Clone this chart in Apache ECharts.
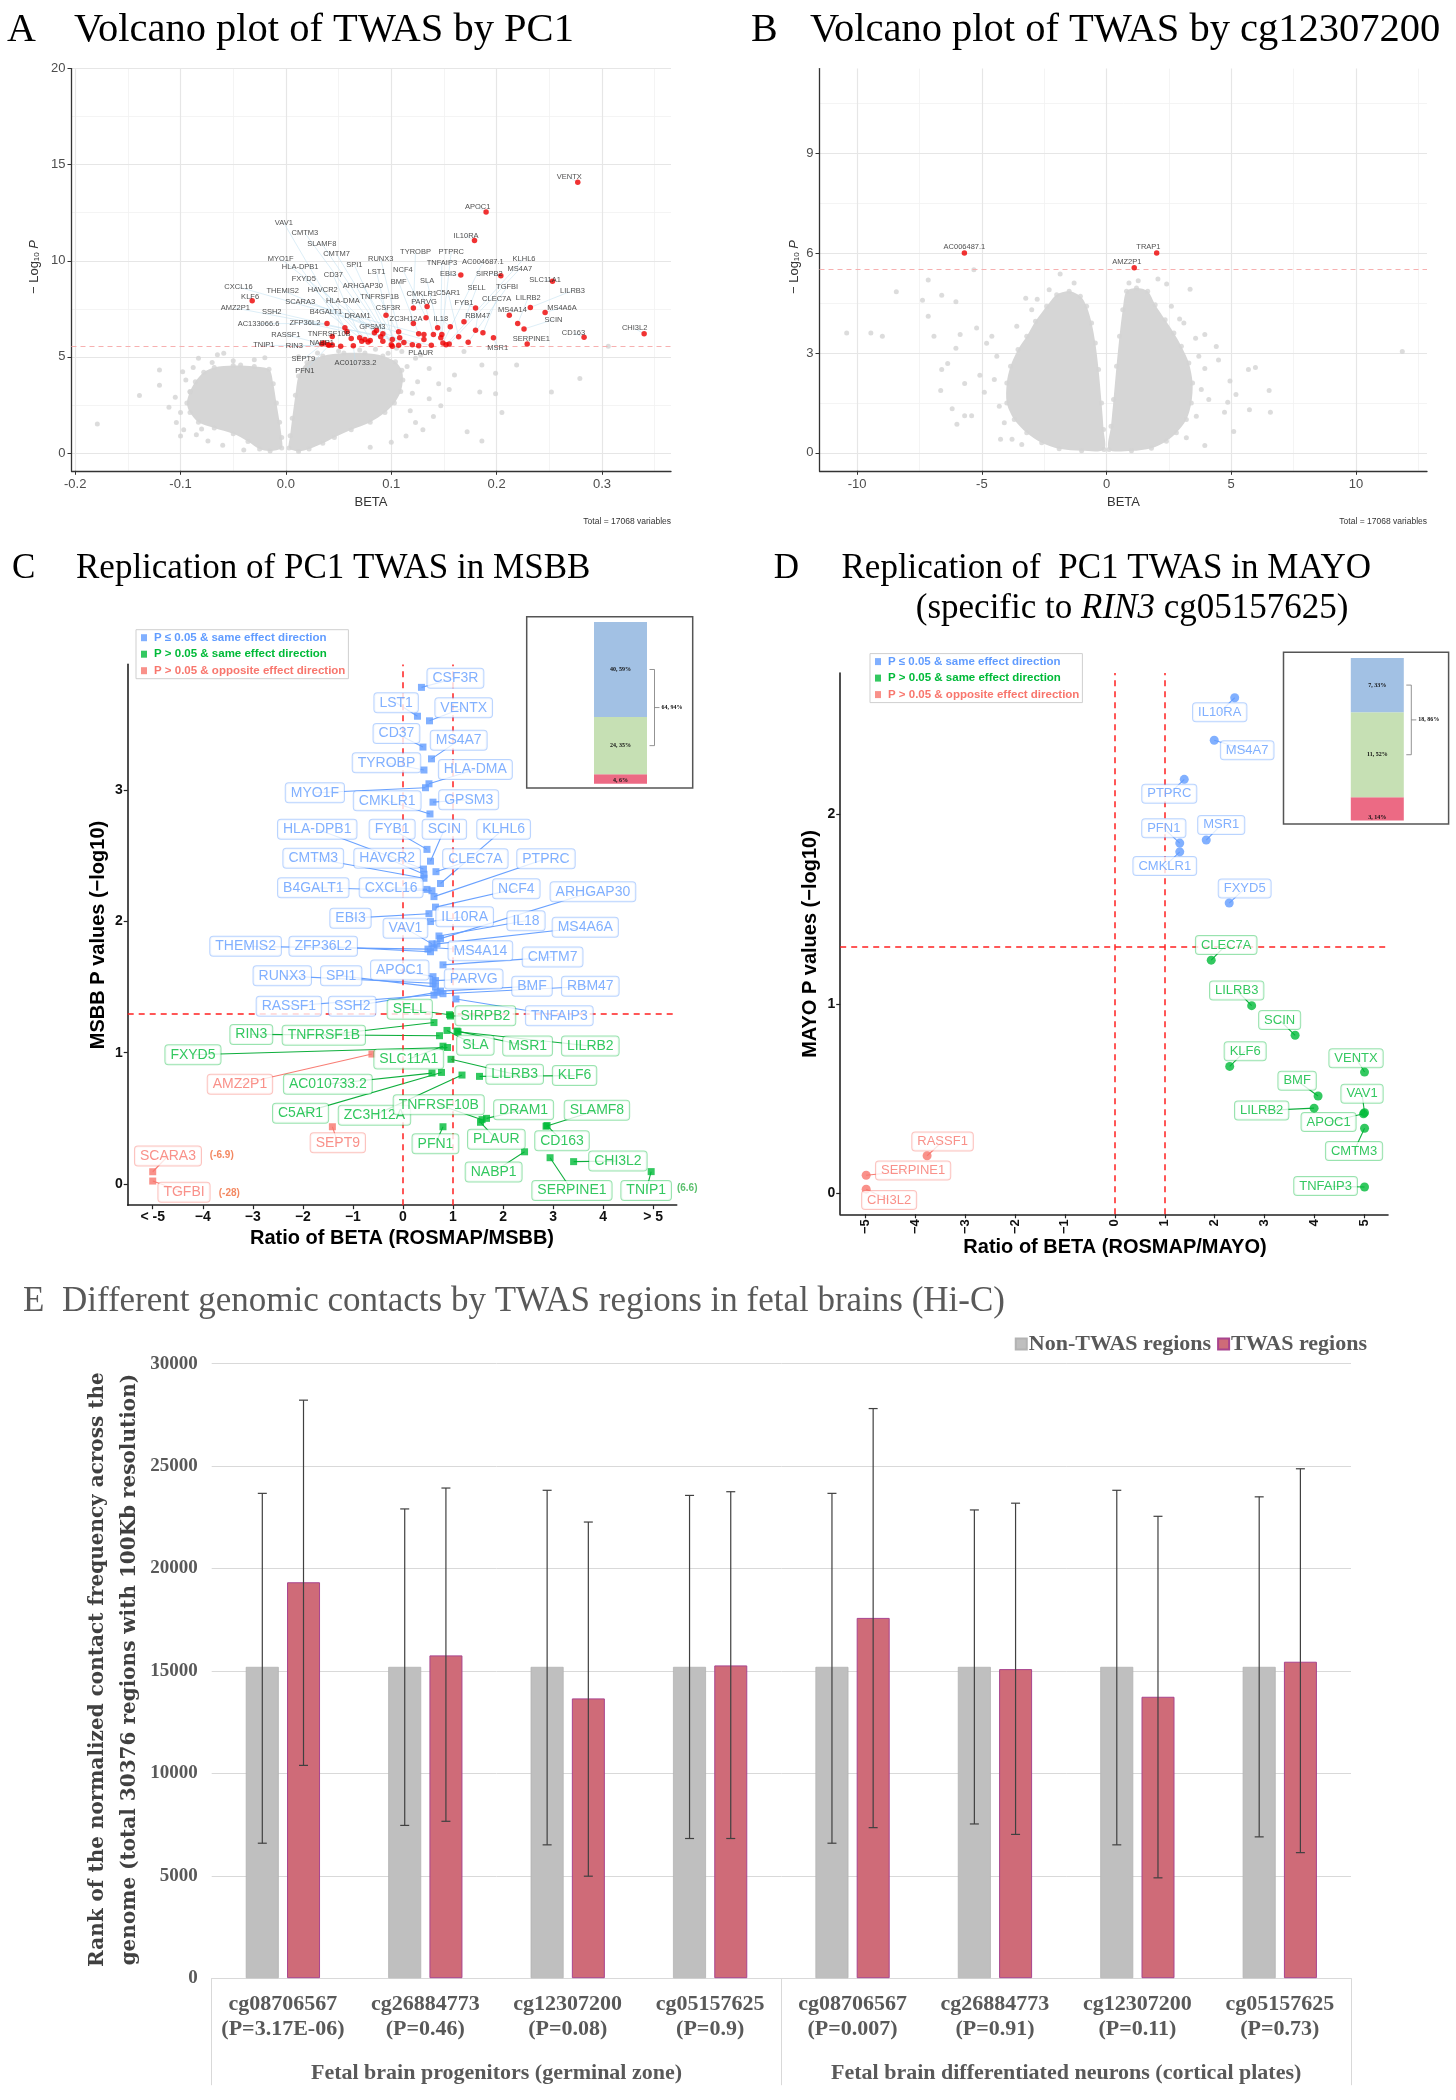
<!DOCTYPE html>
<html><head><meta charset="utf-8">
<script src="https://cdn.jsdelivr.net/npm/echarts@6/dist/echarts.min.js"></script>
<style>html,body{margin:0;padding:0;background:#fff}#c{width:1456px;height:2100px}</style>
</head><body><div id="c"></div><script>
const SANS="'Liberation Sans', Arial, Helvetica, sans-serif";
const SERIF="'Liberation Serif', 'Times New Roman', Times, serif";

// ================= Panel A : volcano by PC1 =================
const volcanoA_cloudLeft=[[-0.004,0.25],[-0.015,0.1],[-0.025,0.2],[-0.036,0.6],[-0.05,1.0],[-0.068,1.3],[-0.083,1.6],[-0.091,2.1],[-0.094,2.6],[-0.091,3.2],[-0.086,3.7],[-0.078,4.2],[-0.068,4.45],[-0.05,4.55],[-0.03,4.5],[-0.016,4.35],[-0.012,3.6],[-0.009,2.6],[-0.006,1.6],[-0.004,0.8]];
const volcanoA_cloudRight=[[0.003,0.25],[0.012,0.08],[0.022,0.2],[0.035,0.5],[0.046,0.8],[0.062,1.2],[0.08,1.6],[0.094,2.1],[0.103,2.6],[0.109,3.2],[0.111,3.8],[0.11,4.3],[0.104,4.75],[0.092,5.05],[0.075,5.2],[0.055,5.2],[0.035,5.05],[0.02,4.7],[0.012,4.0],[0.009,3.0],[0.006,1.8],[0.004,0.9]];
const volcanoA_grey=[[-0.179,1.50],[-0.139,2.99],[-0.120,4.31],[-0.120,3.52],[-0.098,4.23],[-0.104,1.58],[-0.100,0.88],[-0.111,2.38],[-0.074,0.62],[-0.091,3.17],[-0.083,4.93],[-0.065,5.11],[-0.059,5.19],[-0.043,4.58],[-0.050,4.80],[-0.030,4.85],[-0.020,4.95],[-0.095,3.80],[-0.097,1.20],[-0.085,0.95],[-0.060,0.40],[-0.040,0.15],[-0.070,4.70],[-0.088,4.45],[-0.105,2.90],[-0.100,2.10],[-0.080,1.25],
[0.186,0.62],[0.219,4.58],[0.252,3.17],[0.279,3.87],[0.306,5.55],[0.199,4.14],[0.199,3.08],[0.186,4.58],[0.169,5.28],[0.160,4.05],[0.147,2.46],[0.136,2.82],[0.125,3.70],[0.123,1.58],[0.114,0.88],[0.136,4.40],[0.123,4.93],[0.110,5.28],[0.097,5.19],[0.184,3.17],[0.155,3.30],[0.140,1.90],[0.130,1.20],[0.118,2.20],[0.120,3.10],[0.115,4.50],[0.085,5.40],[0.070,5.35],[0.050,5.30],[0.030,5.20],[0.012,5.00],[0.100,0.55],[0.080,0.30],[0.172,1.10],[0.205,2.10],[0.128,5.10],[0.105,5.45],[0.145,3.60]];
const volcanoA_hits=[['VENTX',0.277,14.08],['APOC1',0.190,12.54],['IL10RA',0.179,11.06],['VAV1',0.056,6.51],['CMTM3',0.086,6.37],['SLAMF8',0.092,6.20],['CMTM7',0.101,5.55],['TYROBP',0.121,7.54],['PTPRC',0.148,6.16],['RUNX3',0.107,6.30],['MYO1F',0.090,6.05],['SPI1',0.100,5.63],['TNFAIP3',0.147,5.99],['AC004687.1',0.149,5.72],['KLHL6',0.152,5.63],['HLA-DPB1',0.062,5.95],['LST1',0.101,5.90],['NCF4',0.133,7.04],['EBI3',0.166,9.26],['SIRPB2',0.204,9.22],['MS4A7',0.155,5.67],['CD37',0.072,5.81],['FXYD5',0.075,5.90],['BMF',0.126,6.20],['SLA',0.144,6.51],['SLC11A1',0.253,8.93],['CXCL16',0.131,5.90],['THEMIS2',0.120,5.63],['HAVCR2',0.078,5.77],['ARHGAP30',0.107,5.60],['SELL',0.169,6.83],['TGFBI',0.173,5.76],['LILRB3',0.232,7.57],['CMKLR1',0.140,6.16],['C5AR1',0.164,6.04],['KLF6',-0.032,7.92],['TNFRSF1B',0.108,5.99],['SCARA3',0.131,6.16],['HLA-DMA',0.092,5.81],['CLEC7A',0.187,6.25],['LILRB2',0.220,6.73],['FYB1',0.180,7.54],['MS4A14',0.212,7.17],['MS4A6A',0.246,7.31],['AMZ2P1',0.138,5.60],['SSH2',0.112,5.75],['B4GALT1',0.070,6.00],['CSF3R',0.095,7.17],['PARVG',0.134,7.62],['DRAM1',0.080,5.85],['ZC3H12A',0.121,6.73],['IL18',0.156,6.57],['RBM47',0.180,6.39],['SCIN',0.226,6.45],['AC133066.6',0.039,6.73],['ZFP36L2',0.058,6.30],['GPSM3',0.084,6.25],['CD163',0.283,6.02],['CHI3L2',0.340,6.20],['RASSF1',0.034,5.67],['TNFRSF10B',0.044,6.06],['SERPINE1',0.229,5.67],['TNIP1',0.052,5.55],['RIN3',0.040,5.63],['NABP1',0.044,5.62],['MSR1',0.197,5.99],['PLAUR',0.126,5.58],['SEPT9',0.036,5.72],['AC010733.2',0.064,5.58],['PFN1',0.041,5.60]];
const volcanoA_labelPos=[['VENTX',0.269,14.35],['APOC1',0.182,12.80],['IL10RA',0.171,11.30],['VAV1',-0.002,11.97],['CMTM3',0.018,11.44],['SLAMF8',0.034,10.90],['CMTM7',0.048,10.35],['TYROBP',0.123,10.44],['PTPRC',0.157,10.48],['RUNX3',0.090,10.09],['MYO1F',-0.005,10.10],['SPI1',0.065,9.77],['TNFAIP3',0.148,9.90],['AC004687.1',0.187,9.93],['KLHL6',0.226,10.12],['HLA-DPB1',0.0135,9.67],['LST1',0.086,9.42],['NCF4',0.111,9.54],['EBI3',0.154,9.30],['SIRPB2',0.193,9.33],['MS4A7',0.222,9.58],['CD37',0.045,9.24],['FXYD5',0.017,9.05],['BMF',0.107,8.89],['SLA',0.134,8.94],['SLC11A1',0.246,9.01],['CXCL16',-0.045,8.63],['THEMIS2',-0.003,8.45],['HAVCR2',0.035,8.50],['ARHGAP30',0.073,8.71],['SELL',0.181,8.59],['TGFBI',0.210,8.64],['LILRB3',0.272,8.45],['CMKLR1',0.129,8.27],['C5AR1',0.154,8.33],['KLF6',-0.034,8.10],['TNFRSF1B',0.089,8.10],['SCARA3',0.0135,7.87],['HLA-DMA',0.054,7.92],['CLEC7A',0.200,7.99],['LILRB2',0.230,8.08],['FYB1',0.169,7.78],['MS4A14',0.215,7.43],['MS4A6A',0.262,7.57],['AMZ2P1',-0.048,7.54],['SSH2',-0.0135,7.36],['B4GALT1',0.038,7.36],['CSF3R',0.097,7.54],['PARVG',0.131,7.85],['DRAM1',0.068,7.13],['ZC3H12A',0.114,6.97],['IL18',0.147,6.99],['RBM47',0.182,7.11],['SCIN',0.254,6.94],['AC133066.6',-0.026,6.73],['ZFP36L2',0.018,6.78],['GPSM3',0.082,6.58],['CD163',0.273,6.25],['CHI3L2',0.331,6.48],['RASSF1',0.000,6.16],['TNFRSF10B',0.041,6.21],['SERPINE1',0.233,5.93],['TNIP1',-0.021,5.60],['RIN3',0.008,5.56],['NABP1',0.034,5.70],['MSR1',0.201,5.46],['PLAUR',0.128,5.21],['SEPT9',0.0166,4.88],['AC010733.2',0.066,4.67],['PFN1',0.018,4.28]];
const volcanoA_threshold=5.55;
const volcanoA_xTicks=[-0.2,-0.1,0,0.1,0.2,0.3];
const volcanoA_xMinor=[-0.15,-0.05,0.05,0.15,0.25,0.35];
const volcanoA_yTicks=[0,5,10,15,20];
const volcanoA_yMinor=[2.5,7.5,12.5,17.5];

// ================= Panel B : volcano by cg12307200 =================
const volcanoB_cloudLeft=[[-0.1,0.1],[-1.0,0.06],[-1.9,0.12],[-2.6,0.3],[-3.2,0.6],[-3.7,1.0],[-4.0,1.5],[-4.0,2.1],[-3.85,2.6],[-3.55,3.1],[-3.2,3.5],[-2.85,3.95],[-2.4,4.4],[-2.0,4.75],[-1.5,4.85],[-1.05,4.7],[-0.8,4.4],[-0.6,3.9],[-0.45,3.3],[-0.32,2.5],[-0.2,1.5],[-0.12,0.7]];
const volcanoB_cloudRight=[[0.1,0.1],[1.0,0.06],[1.8,0.14],[2.4,0.35],[2.8,0.6],[3.2,1.0],[3.4,1.5],[3.45,2.1],[3.3,2.7],[3.0,3.2],[2.7,3.6],[2.35,4.0],[1.95,4.45],[1.65,4.85],[1.2,4.95],[0.8,4.85],[0.65,4.3],[0.52,3.5],[0.4,2.6],[0.28,1.6],[0.18,0.8]];
const volcanoB_grey=[[-10.42,3.60],[-9.45,3.60],[-8.99,3.50],[-8.43,4.84],[-7.15,5.19],[-7.38,4.58],[-7.15,4.10],[-6.92,3.50],[-6.61,4.73],[-6.37,2.68],[-6.61,2.50],[-6.65,1.87],[-6.19,1.32],[-6.0,0.86],[-6.04,4.54],[-5.87,3.55],[-6.04,3.14],[-5.69,2.08],[-5.32,5.50],[-5.21,3.75],[-5.08,2.33],[-4.81,3.29],[-4.90,1.82],[-5.41,1.11],[-5.69,1.11],[-3.24,4.64],[-2.78,4.61],[-4.25,0.41],[-3.79,0.41],[-1.86,5.37],[-4.4,2.9],[-4.5,2.2],[-4.3,1.4],[-3.6,3.8],[-3.0,4.3],[-2.3,4.9],[-1.3,5.1],[-3.4,0.25],[-4.6,3.5],[-4.1,0.9],
[2.06,5.22],[2.41,5.07],[3.35,4.91],[2.93,4.02],[3.57,3.44],[3.94,3.55],[4.40,3.19],[4.49,2.79],[3.94,2.53],[4.95,2.16],[5.19,1.75],[4.86,1.52],[5.69,2.50],[5.97,2.56],[6.52,1.87],[6.57,1.22],[5.73,1.29],[5.10,0.64],[3.94,0.22],[11.86,3.04],[4.73,1.22],[1.27,5.17],[0.9,5.1],[3.7,2.9],[3.8,1.9],[3.6,1.1],[3.2,0.45],[2.6,4.4],[3.1,3.9],[4.1,1.6]];
const volcanoB_hits=[['AC006487.1',-5.70,6.00],['TRAP1',2.01,6.00],['AMZ2P1',1.11,5.56]];
const volcanoB_labelPos=[['AC006487.1',-5.70,6.17],['TRAP1',1.68,6.17],['AMZ2P1',0.81,5.72]];
const volcanoB_threshold=5.52;
const volcanoB_xTicks=[-10,-5,0,5,10];
const volcanoB_xMinor=[-7.5,-2.5,2.5,7.5,12.5];
const volcanoB_yTicks=[0,3,6,9];
const volcanoB_yMinor=[1.5,4.5,7.5,10.5];
const volcano_total='Total = 17068 variables';

// ================= Panel C : replication in MSBB =================
const msbb_genes=[
['CSF3R',0.37,3.785,'blue'],['LST1',0.29,3.565,'blue'],['VENTX',0.53,3.53,'blue'],['CD37',0.40,3.33,'blue'],['MS4A7',0.57,3.24,'blue'],['TYROBP',0.42,3.155,'blue'],['HLA-DMA',0.52,3.05,'blue'],['MYO1F',0.45,3.02,'blue'],['GPSM3',0.60,2.91,'blue'],['CMKLR1',0.54,2.82,'blue'],['FYB1',0.48,2.55,'blue'],['SCIN',0.55,2.46,'blue'],['HLA-DPB1',0.41,2.40,'blue'],['HAVCR2',0.42,2.36,'blue'],['CMTM3',0.42,2.33,'blue'],['CLEC7A',0.66,2.38,'blue'],['KLHL6',0.75,2.29,'blue'],['CXCL16',0.48,2.245,'blue'],['B4GALT1',0.58,2.235,'blue'],['PTPRC',0.62,2.19,'blue'],['NCF4',0.65,2.11,'blue'],['EBI3',0.52,2.06,'blue'],['IL10RA',0.55,2.00,'blue'],['ARHGAP30',0.75,1.87,'blue'],['IL18',0.72,1.89,'blue'],['VAV1',0.58,1.83,'blue'],['MS4A6A',0.68,1.83,'blue'],['MS4A14',0.62,1.80,'blue'],['THEMIS2',0.50,1.79,'blue'],['ZFP36L2',0.55,1.77,'blue'],['CMTM7',0.80,1.67,'blue'],['APOC1',0.60,1.58,'blue'],['PARVG',0.65,1.55,'blue'],['RUNX3',0.60,1.53,'blue'],['SPI1',0.65,1.50,'blue'],['BMF',0.75,1.47,'blue'],['RBM47',0.80,1.45,'blue'],['RASSF1',0.62,1.44,'blue'],['SSH2',0.68,1.46,'blue'],['TNFAIP3',1.06,1.41,'blue'],
['SELL',0.93,1.29,'green'],['SIRPB2',0.95,1.28,'green'],['RIN3',0.73,1.13,'green'],['TNFRSF1B',0.62,1.23,'green'],['FXYD5',0.89,1.04,'green'],['SLA',0.88,1.17,'green'],['MSR1',1.08,1.165,'green'],['LILRB2',1.10,1.16,'green'],['SLC11A1',0.80,1.05,'green'],['LILRB3',0.96,0.95,'green'],['KLF6',1.53,0.82,'green'],['AC010733.2',0.58,0.845,'green'],['C5AR1',0.77,0.85,'green'],['ZC3H12A',1.18,0.83,'green'],['TNFRSF10B',1.58,0.49,'green'],['DRAM1',1.67,0.50,'green'],['PLAUR',1.55,0.47,'green'],['SLAMF8',2.86,0.44,'green'],['CD163',2.88,0.445,'green'],['PFN1',0.80,0.436,'green'],['NABP1',2.43,0.245,'green'],['SERPINE1',2.94,0.20,'green'],['CHI3L2',3.41,0.17,'green'],['TNIP1',4.96,0.094,'green'],
['AMZ2P1',-0.62,0.99,'red'],['SEPT9',-1.41,0.436,'red'],['SCARA3',-5.0,0.093,'red'],['TGFBI',-5.0,0.022,'red']];
const msbb_labelPos=[['CSF3R',1.048,3.854],['LST1',-0.136,3.668],['VENTX',1.214,3.629],['CD37',-0.130,3.434],['MS4A7',1.114,3.381],['TYROBP',-0.329,3.210],['HLA-DMA',1.447,3.159],['MYO1F',-1.760,2.982],['CMKLR1',-0.315,2.921],['GPSM3',1.313,2.928],['HLA-DPB1',-1.713,2.703],['FYB1',-0.216,2.703],['SCIN',0.828,2.704],['KLHL6',2.012,2.704],['CMTM3',-1.792,2.482],['HAVCR2',-0.315,2.482],['CLEC7A',1.447,2.479],['PTPRC',2.858,2.479],['B4GALT1',-1.792,2.258],['CXCL16',-0.236,2.258],['NCF4',2.265,2.250],['ARHGAP30',3.796,2.227],['EBI3',-1.048,2.026],['IL10RA',1.234,2.037],['IL18',2.459,2.006],['MS4A6A',3.643,1.956],['VAV1',0.050,1.948],['THEMIS2',-3.144,1.811],['ZFP36L2',-1.593,1.811],['MS4A14',1.547,1.778],['CMTM7',2.990,1.729],['APOC1',-0.064,1.630],['RUNX3',-2.411,1.586],['SPI1',-1.234,1.586],['PARVG',1.413,1.563],['BMF',2.579,1.507],['RBM47',3.743,1.507],['RASSF1',-2.279,1.355],['SSH2',-1.014,1.355],['SELL',0.136,1.332],['SIRPB2',1.647,1.282],['TNFAIP3',3.124,1.282],['RIN3',-3.030,1.140],['TNFRSF1B',-1.581,1.133],['SLA',1.447,1.057],['MSR1',2.491,1.051],['LILRB2',3.743,1.051],['FXYD5',-4.196,0.985],['SLC11A1',0.116,0.952],['LILRB3',2.232,0.836],['KLF6',3.429,0.826],['AMZ2P1',-3.257,0.760],['AC010733.2',-1.501,0.760],['TNFRSF10B',0.715,0.604],['DRAM1',2.411,0.565],['SLAMF8',3.876,0.562],['C5AR1',-2.046,0.538],['ZC3H12A',-0.569,0.523],['PLAUR',1.866,0.340],['CD163',3.178,0.330],['SEPT9',-1.301,0.314],['PFN1',0.649,0.307],['SCARA3',-4.695,0.213],['CHI3L2',4.295,0.175],['NABP1',1.812,0.092],['SERPINE1',3.377,-0.050],['TNIP1',4.860,-0.050],['TGFBI',-4.375,-0.064]];
const msbb_notes=[['(-6.9)',-3.62,0.22,'red'],['(-28)',-3.47,-0.072,'red'],['(6.6)',5.68,-0.034,'green']];
const msbb_counts=[4,24,40];   // red, green, blue
const ratio_xTicks=[-5,-4,-3,-2,-1,0,1,2,3,4,5];
const msbb_yTicks=[0,1,2,3];

// ================= Panel D : replication in MAYO =================
const mayo_genes=[['IL10RA',2.40,2.613,'blue'],['MS4A7',1.99,2.389,'blue'],['PTPRC',1.39,2.183,'blue'],['MSR1',1.83,1.863,'blue'],['PFN1',1.30,1.847,'blue'],['CMKLR1',1.30,1.801,'blue'],['FXYD5',2.29,1.531,'blue'],
['CLEC7A',1.93,1.230,'green'],['LILRB3',2.74,0.990,'green'],['SCIN',3.61,0.834,'green'],['KLF6',2.30,0.670,'green'],['VENTX',5.00,0.640,'green'],['BMF',4.07,0.514,'green'],['LILRB2',3.99,0.450,'green'],['VAV1',5.00,0.426,'green'],['APOC1',4.98,0.42,'green'],['CMTM3',5.00,0.344,'green'],['TNFAIP3',5.00,0.034,'green'],
['RASSF1',-3.76,0.199,'red'],['SERPINE1',-4.98,0.096,'red'],['CHI3L2',-4.98,0.023,'red']];
const mayo_labelPos=[['IL10RA',2.10,2.537],['MS4A7',2.65,2.336],['PTPRC',1.09,2.107],['MSR1',2.13,1.943],['PFN1',0.98,1.925],['CMKLR1',1.00,1.726],['FXYD5',2.60,1.607],['CLEC7A',2.23,1.31],['LILRB3',2.44,1.07],['SCIN',3.30,0.914],['KLF6',2.61,0.75],['VENTX',4.83,0.713],['BMF',3.65,0.594],['LILRB2',2.94,0.437],['VAV1',4.95,0.526],['APOC1',4.28,0.377],['CMTM3',4.79,0.224],['TNFAIP3',4.22,0.039],['RASSF1',-3.45,0.274],['SERPINE1',-4.04,0.121],['CHI3L2',-4.52,-0.034]];
const mayo_counts=[3,11,7];   // red, green, blue
const mayo_yTicks=[0,1,2];

// ================= Panel E : Hi-C contacts =================
const hic_cpg=['cg08706567','cg26884773','cg12307200','cg05157625','cg08706567','cg26884773','cg12307200','cg05157625'];
const hic_p=['P=3.17E-06','P=0.46','P=0.08','P=0.9','P=0.007','P=0.91','P=0.11','P=0.73'];
const hic_tissue=['Fetal brain progenitors (germinal zone)','Fetal brain differentiated neurons (cortical plates)'];
const hic_nonTwas=[15200,15200,15200,15200,15200,15200,15200,15200];
const hic_twas=[19330,15760,13660,15270,17590,15090,13740,15450];
const hic_nonTwasLow=[6590,7460,6510,6820,6590,7530,6510,6900];
const hic_nonTwasHigh=[23670,22910,23820,23570,23670,22860,23820,23500];
const hic_twasLow=[10390,7660,4980,6820,7350,7020,4900,6130];
const hic_twasHigh=[28220,23930,22270,23750,27810,23190,22550,24870];

// ================= helpers =================
const LEG=['P ≤ 0.05 & same effect direction','P > 0.05 & same effect direction','P > 0.05 & opposite effect direction'];
const GROUP_NAME={blue:LEG[0],green:LEG[1],red:LEG[2]};
const GC={blue:'#619CFF',green:'#00BA38',red:'#F8766D'};
const GB={blue:'rgba(97,156,255,0.55)',green:'rgba(0,186,56,0.5)',red:'rgba(248,118,109,0.55)'};
const GL={blue:'rgba(97,156,255,0.95)',green:'rgba(0,170,50,0.95)',red:'rgba(248,118,109,0.95)'};
const INSET={red:'#ec6a84',green:'#c6e0b4',blue:'#a2c1e4'};

function gridMarks(xMaj,xMin,yMaj,yMin){
  const maj={color:'#e6e6e6',width:1.2,type:'solid'}, mn={color:'#f1f1f1',width:0.8,type:'solid'};
  return [].concat(xMin.map(v=>({xAxis:v,lineStyle:mn})),yMin.map(v=>({yAxis:v,lineStyle:mn})),
                   xMaj.map(v=>({xAxis:v,lineStyle:maj})),yMaj.map(v=>({yAxis:v,lineStyle:maj})));
}
function polySeries(xi,yi,outline){
  return {type:'custom',xAxisIndex:xi,yAxisIndex:yi,z:1,silent:true,clip:false,data:[outline[0]],
    renderItem:function(p,api){return {type:'polygon',shape:{points:outline.map(q=>api.coord(q)),smooth:0.3},style:{fill:'#d6d6d6'}};}};
}
function posMap(arr){const m={};arr.forEach(r=>{m[r[0]]=[r[1],r[2]];});return m;}
function connSeries(xi,yi,genes,labels,colorFn,width){
  const pm=posMap(labels);
  return {type:'custom',xAxisIndex:xi,yAxisIndex:yi,z:2,silent:true,clip:false,
    data:genes.map(g=>[pm[g[0]][0],pm[g[0]][1],g[1],g[2]]),
    renderItem:function(p,api){const a=api.coord([api.value(0),api.value(1)]),b=api.coord([api.value(2),api.value(3)]);
      return {type:'line',shape:{x1:a[0],y1:a[1],x2:b[0],y2:b[1]},style:{stroke:colorFn(genes[p.dataIndex][3]),lineWidth:width}};}};
}
function textSeries(xi,yi,labels,labelStyle,itemFn){
  return {type:'scatter',xAxisIndex:xi,yAxisIndex:yi,z:6,silent:true,clip:false,symbolSize:1,itemStyle:{color:'rgba(0,0,0,0)'},
    data:labels.map((r,i)=>Object.assign({name:r[0],value:[r[1],r[2]]},itemFn?itemFn(r,i):{})),
    label:Object.assign({show:true,position:'inside',formatter:'{b}'},labelStyle)};
}
function minusFmt(v){return v<0?'\u2212'+(-v):String(v);}

// ================= build option =================
const grids=[
 {left:71.5,top:68.6,width:599.5,height:402.2},      // 0 A
 {left:819.5,top:68.6,width:607.5,height:402.2},     // 1 B
 {left:127.7,top:664.4,width:549,height:540.8},      // 2 C
 {left:555,top:621.9,width:131,height:161.8},        // 3 C inset
 {left:840.2,top:673.1,width:547.8,height:541.2},    // 4 D
 {left:1310,top:658,width:134.6,height:162.5},       // 5 D inset
 {left:211.7,top:1363.7,width:1139.3,height:614.5}   // 6 E
];
const volAxisLine={show:true,onZero:false,lineStyle:{color:'#333',width:1.3}};
function volX(gi,min,max,ticks,fmt){return {type:'value',gridIndex:gi,min,max,axisLine:volAxisLine,splitLine:{show:false},
  axisTick:{show:true,length:4,customValues:ticks,lineStyle:{color:'#333'}},
  axisLabel:{customValues:ticks,formatter:fmt,color:'#4d4d4d',fontSize:13,fontFamily:SANS,margin:7}};}
function volY(gi,min,max,ticks){return {type:'value',gridIndex:gi,min,max,axisLine:volAxisLine,splitLine:{show:false},
  axisTick:{show:true,length:4,customValues:ticks,lineStyle:{color:'#333'}},
  axisLabel:{customValues:ticks,color:'#4d4d4d',fontSize:13,fontFamily:SANS,margin:6}};}
const repAxisLine={show:true,onZero:false,lineStyle:{color:'#222',width:1.6}};
function repX(gi,min,max,fmt,rotate){return {type:'value',gridIndex:gi,min,max,axisLine:repAxisLine,splitLine:{show:false},
  axisTick:{show:true,length:4,customValues:ratio_xTicks,lineStyle:{color:'#222',width:1.2}},
  axisLabel:{customValues:ratio_xTicks,formatter:fmt,rotate:rotate||0,color:'#111',fontWeight:'bold',fontSize:rotate?13:14,fontFamily:SANS,margin:5}};}
function repY(gi,min,max,ticks){return {type:'value',gridIndex:gi,min,max,axisLine:repAxisLine,splitLine:{show:false},
  axisTick:{show:true,length:4,customValues:ticks,lineStyle:{color:'#222',width:1.2}},
  axisLabel:{customValues:ticks,color:'#111',fontWeight:'bold',fontSize:14,fontFamily:SANS,margin:5}};}
function insetY(gi,name){return {type:'value',gridIndex:gi,min:0,max:100,interval:10,
  axisLine:{show:true,onZero:false,lineStyle:{color:'#9ecae1',type:'dotted',width:1}},axisTick:{show:false},splitLine:{show:false},
  axisLabel:{fontSize:4,color:'#444',margin:6,fontFamily:SERIF},
  name:name,nameLocation:'middle',nameGap:16,nameRotate:90,nameTextStyle:{fontSize:5,color:'#333',fontFamily:SERIF}};}
function insetX(gi){return {type:'category',gridIndex:gi,data:['all'],show:false};}

const xAxes=[
 volX(0,-0.2035,0.3655,volcanoA_xTicks,v=>v.toFixed(1)),
 volX(1,-11.51,12.85,volcanoB_xTicks,v=>String(v)),
 repX(2,-5.5,5.47,v=>v===-5?'< -5':(v===5?'> 5':minusFmt(v))),
 insetX(3),
 repX(4,-5.5,5.47,minusFmt,90),
 insetX(5),
 {type:'category',gridIndex:6,data:hic_cpg.map((c,i)=>c+'\n('+hic_p[i]+')'),
  axisLine:{show:true,lineStyle:{color:'#d9d9d9',width:1}},axisTick:{show:false},
  axisLabel:{interval:0,margin:14,color:'#595959',fontFamily:SERIF,fontWeight:'bold',fontSize:22,lineHeight:25}},
 {type:'category',gridIndex:6,position:'bottom',data:hic_tissue,axisLine:{show:false},
  axisTick:{show:true,length:107,lineStyle:{color:'#d9d9d9',width:1}},
  axisLabel:{interval:0,margin:84,color:'#595959',fontFamily:SERIF,fontWeight:'bold',fontSize:22}}
];
const yAxes=[
 volY(0,-0.93,20,volcanoA_yTicks),
 volY(1,-0.54,11.54,volcanoB_yTicks),
 repY(2,-0.162,3.96,msbb_yTicks),
 insetY(3,'Percentage(%)'),
 repY(4,-0.1096,2.743,mayo_yTicks),
 insetY(5,'Percentage (%)'),
 {type:'value',gridIndex:6,min:0,max:30000,interval:5000,axisLine:{show:false},axisTick:{show:false},
  splitLine:{show:true,lineStyle:{color:'#d9d9d9',width:1}},
  axisLabel:{formatter:v=>String(v),color:'#595959',fontFamily:SERIF,fontWeight:'bold',fontSize:19,margin:14}}
];

const series=[];
// ---- A
series.push(polySeries(0,0,volcanoA_cloudLeft));
series.push(polySeries(0,0,volcanoA_cloudRight));
series.push({type:'scatter',xAxisIndex:0,yAxisIndex:0,z:2,silent:true,clip:false,symbolSize:5,itemStyle:{color:'#d3d3d3'},
  data:volcanoA_grey.concat(volcanoA_cloudLeft,volcanoA_cloudRight),
  markLine:{silent:true,z:0,symbol:['none','none'],label:{show:false},data:gridMarks(volcanoA_xTicks,volcanoA_xMinor,volcanoA_yTicks,volcanoA_yMinor)}});
series.push(connSeries(0,0,volcanoA_hits,volcanoA_labelPos,()=> 'rgba(190,222,240,0.75)',0.7));
series.push({type:'scatter',xAxisIndex:0,yAxisIndex:0,z:4,silent:true,clip:false,symbolSize:5.5,itemStyle:{color:'#ee0000'},
  data:volcanoA_hits.map(h=>[h[1],h[2]]),
  markLine:{silent:true,z:3,symbol:['none','none'],label:{show:false},lineStyle:{color:'#f7b0b0',type:[5,4],width:1},data:[{yAxis:volcanoA_threshold}]}});
series.push(textSeries(0,0,volcanoA_labelPos,{fontSize:7.5,color:'#222',fontFamily:SANS}));
// ---- B
series.push(polySeries(1,1,volcanoB_cloudLeft));
series.push(polySeries(1,1,volcanoB_cloudRight));
series.push({type:'scatter',xAxisIndex:1,yAxisIndex:1,z:2,silent:true,clip:false,symbolSize:5,itemStyle:{color:'#d3d3d3'},
  data:volcanoB_grey.concat(volcanoB_cloudLeft,volcanoB_cloudRight),
  markLine:{silent:true,z:0,symbol:['none','none'],label:{show:false},data:gridMarks(volcanoB_xTicks,volcanoB_xMinor,volcanoB_yTicks,volcanoB_yMinor)}});
series.push({type:'scatter',xAxisIndex:1,yAxisIndex:1,z:4,silent:true,clip:false,symbolSize:5.5,itemStyle:{color:'#ee0000'},
  data:volcanoB_hits.map(h=>[h[1],h[2]]),
  markLine:{silent:true,z:3,symbol:['none','none'],label:{show:false},lineStyle:{color:'#f7b0b0',type:[5,4],width:1},data:[{yAxis:volcanoB_threshold}]}});
series.push(textSeries(1,1,volcanoB_labelPos,{fontSize:7.5,color:'#222',fontFamily:SANS}));

// ---- C & D replication panels
function repPanel(xi,yi,genes,labels,symbol,size,fontSize){
  const pm=posMap(labels);
  ['blue','green','red'].forEach((g,k)=>{
    const s={type:'scatter',name:GROUP_NAME[g],xAxisIndex:xi,yAxisIndex:yi,z:4,silent:true,clip:false,symbol:symbol,symbolSize:size,
      itemStyle:{color:GC[g]},data:genes.filter(r=>r[3]===g).map(r=>[r[1],r[2]])};
    if(k===0){s.markLine={silent:true,z:3,symbol:['none','none'],label:{show:false},lineStyle:{color:'#ff2020',type:[6,5],width:1.5},
      data:[{xAxis:0},{xAxis:1},{yAxis:1.301}]};}
    series.push(s);
  });
  series.push(connSeries(xi,yi,genes,labels,g=>GL[g],1.1));
  series.push(textSeries(xi,yi,genes.map(r=>[r[0],pm[r[0]][0],pm[r[0]][1]]),
    {fontSize:fontSize,fontFamily:SANS,backgroundColor:'#fff',borderWidth:1,borderRadius:3,padding:[2,5,1,5],lineHeight:fontSize+2},
    (r,i)=>({label:{color:GC[genes[i][3]],borderColor:GB[genes[i][3]]}})));
}
repPanel(2,2,msbb_genes,msbb_labelPos,'rect',7,14);
series.push(textSeries(2,2,msbb_notes,{fontSize:10,fontWeight:'bold',fontFamily:SANS},
  (r)=>({label:{color:r[3]==='red'?'#f06a3a':'#33b04a'}})));
repPanel(4,4,mayo_genes,mayo_labelPos,'circle',9,13);

// ---- insets
function insetSeries(xi,yi,counts,bracketOffset){
  const total=counts.reduce((a,b)=>a+b,0);
  const pct=counts.map(c=>c/total*100);
  const names=['red','green','blue'];
  names.forEach((g,k)=>{
    series.push({type:'bar',xAxisIndex:xi,yAxisIndex:yi,stack:'s'+xi,barWidth:53,silent:true,z:3,
      itemStyle:{color:INSET[g]},data:[pct[k]],
      label:{show:true,position:k===0?'insideBottom':'inside',distance:0,formatter:counts[k]+', '+Math.round(pct[k])+'%',
        fontSize:6,fontWeight:'bold',color:'#111',fontFamily:SERIF}});
  });
  const lo=pct[0]+pct[1]/2, hi=pct[0]+pct[1]+pct[2]/2;
  const lab=(counts[1]+counts[2])+', '+Math.round((counts[1]+counts[2])/total*100)+'%';
  series.push({type:'custom',xAxisIndex:xi,yAxisIndex:yi,z:5,silent:true,clip:false,data:[[0,lo,hi]],
    renderItem:function(p,api){const a=api.coord([0,api.value(1)]),b=api.coord([0,api.value(2)]);const x=a[0]+bracketOffset;const m=(a[1]+b[1])/2;
      return {type:'group',children:[
        {type:'polyline',shape:{points:[[x-5,b[1]],[x,b[1]],[x,a[1]],[x-5,a[1]]]},style:{stroke:'#777',lineWidth:0.8,fill:null}},
        {type:'line',shape:{x1:x,y1:m,x2:x+5,y2:m},style:{stroke:'#777',lineWidth:0.8}},
        {type:'text',x:x+7,y:m,style:{text:lab,fontSize:6,fontWeight:'bold',fontFamily:SERIF,fill:'#111',align:'left',verticalAlign:'middle'}}]};}});
}
insetSeries(3,3,msbb_counts,34);
insetSeries(5,5,mayo_counts,34);

// ---- E bars
series.push({type:'bar',name:'Non-TWAS regions',xAxisIndex:6,yAxisIndex:6,barWidth:33,barGap:'25%',silent:true,
  itemStyle:{color:'#bfbfbf',borderColor:'#b3b3b3',borderWidth:0.8},data:hic_nonTwas});
series.push({type:'bar',name:'TWAS regions',xAxisIndex:6,yAxisIndex:6,barWidth:33,barGap:'25%',silent:true,
  itemStyle:{color:'#cf6b78',borderColor:'#a8448e',borderWidth:1},data:hic_twas});
function errSeries(low,high,offset){
  return {type:'custom',xAxisIndex:6,yAxisIndex:6,z:5,silent:true,encode:{x:0,y:[1,2]},
    data:low.map((l,i)=>[i,l,high[i]]),
    renderItem:function(p,api){const a=api.coord([api.value(0),api.value(1)]),b=api.coord([api.value(0),api.value(2)]);const x=a[0]+offset;
      const st={stroke:'#404040',lineWidth:1.2};
      return {type:'group',children:[
        {type:'line',shape:{x1:x,y1:a[1],x2:x,y2:b[1]},style:st},
        {type:'line',shape:{x1:x-4.5,y1:a[1],x2:x+4.5,y2:a[1]},style:st},
        {type:'line',shape:{x1:x-4.5,y1:b[1],x2:x+4.5,y2:b[1]},style:st}]};}};
}
series.push(errSeries(hic_nonTwasLow,hic_nonTwasHigh,-20.6));
series.push(errSeries(hic_twasLow,hic_twasHigh,20.6));

// ---- legends
function repLegend(left,top){return {left,top,orient:'vertical',icon:'rect',itemWidth:6,itemHeight:7,itemGap:4.5,padding:[2,3,2,5],
  borderColor:'#cfcfcf',borderWidth:1,selectedMode:false,
  data:LEG.map((n,i)=>({name:n,textStyle:{color:[GC.blue,GC.green,GC.red][i]}})),
  textStyle:{fontSize:11.5,fontWeight:'bold',fontFamily:SANS,padding:[0,0,0,2]}};}
const legends=[repLegend(136,629.7),repLegend(870,653.6),
 {right:84,top:1328,icon:'rect',itemWidth:11,itemHeight:11,itemGap:6,selectedMode:false,data:['Non-TWAS regions','TWAS regions'],
  textStyle:{fontSize:22,fontWeight:'bold',fontFamily:SERIF,color:'#595959',padding:[0,0,0,-3]}}];

// ---- texts
function T(x,y,text,font,opt){return Object.assign({type:'text',x:x,y:y,silent:true,z:10,
  style:Object.assign({text:text,font:font,fill:'#000',align:'left',verticalAlign:'middle'},(opt&&opt.style)||{})},(opt&&opt.el)||{});}
const graphics=[
 T(7,30,'A','40px '+SERIF), T(74,30,'Volcano plot of TWAS by PC1','40.5px '+SERIF),
 T(751,30,'B','40px '+SERIF), T(810,30,'Volcano plot of TWAS by cg12307200','40.5px '+SERIF),
 T(371,502,'BETA','13px '+SANS,{style:{align:'center',fill:'#333'}}),
 T(1123.5,502,'BETA','13px '+SANS,{style:{align:'center',fill:'#333'}}),
 T(671,522,volcano_total,'8.5px '+SANS,{style:{align:'right',fill:'#333'}}),
 T(1427,522,volcano_total,'8.5px '+SANS,{style:{align:'right',fill:'#333'}}),
 T(34.6,267,'\u2212 Log{s|10} {i|P}','13px '+SANS,{el:{rotation:Math.PI/2},style:{align:'center',fill:'#333',
   rich:{s:{fontSize:8,fontFamily:SANS,fill:'#333',padding:[5,0,0,0]},i:{fontSize:13,fontStyle:'italic',fontFamily:SANS,fill:'#333'}}}}),
 T(794.3,267,'\u2212 Log{s|10} {i|P}','13px '+SANS,{el:{rotation:Math.PI/2},style:{align:'center',fill:'#333',
   rich:{s:{fontSize:8,fontFamily:SANS,fill:'#333',padding:[5,0,0,0]},i:{fontSize:13,fontStyle:'italic',fontFamily:SANS,fill:'#333'}}}}),
 T(12,569,'C','35px '+SERIF), T(76,569,'Replication of PC1 TWAS in MSBB','35px '+SERIF),
 T(773.7,569,'D','35px '+SERIF), T(841.5,569,'Replication of  PC1 TWAS in MAYO','35px '+SERIF),
 T(915.8,609,'(specific to {it|RIN3} cg05157625)','35px '+SERIF,{style:{rich:{it:{fontSize:35,fontFamily:SERIF,fontStyle:'italic',fill:'#000'}}}}),
 T(402,1238,'Ratio of BETA (ROSMAP/MSBB)','bold 20px '+SANS,{style:{align:'center'}}),
 T(1115,1247,'Ratio of BETA (ROSMAP/MAYO)','bold 20px '+SANS,{style:{align:'center'}}),
 T(98,935,'MSBB P values (\u2212log10)','bold 20px '+SANS,{el:{rotation:Math.PI/2},style:{align:'center'}}),
 T(810.4,944,'MAYO P values (\u2212log10)','bold 20px '+SANS,{el:{rotation:Math.PI/2},style:{align:'center'}}),
 {type:'rect',silent:true,z:1,shape:{x:526.7,y:616.7,width:166,height:171.3},style:{fill:'#fff',stroke:'#555',lineWidth:1.5}},
 {type:'rect',silent:true,z:1,shape:{x:1283.5,y:652.3,width:165.1,height:171.7},style:{fill:'#fff',stroke:'#555',lineWidth:1.5}},
 T(23,1302,'E  Different genomic contacts by TWAS regions in fetal brains (Hi-C)','35px '+SERIF,{style:{fill:'#595959'}}),
 T(113.75,1669.6,'Rank of the normalized contact frequency across the\ngenome (total 30376 regions with 100Kb resolution)','bold 20px '+"'DejaVu Serif', serif",
   {el:{rotation:Math.PI/2},style:{align:'center',fill:'#404040',lineHeight:32.5}})
];

const chart=echarts.init(document.getElementById('c'),null,{renderer:'canvas'});
chart.setOption({animation:false,backgroundColor:'#fff',grid:grids,xAxis:xAxes,yAxis:yAxes,series:series,legend:legends,graphic:{elements:graphics}});
</script></body></html>
